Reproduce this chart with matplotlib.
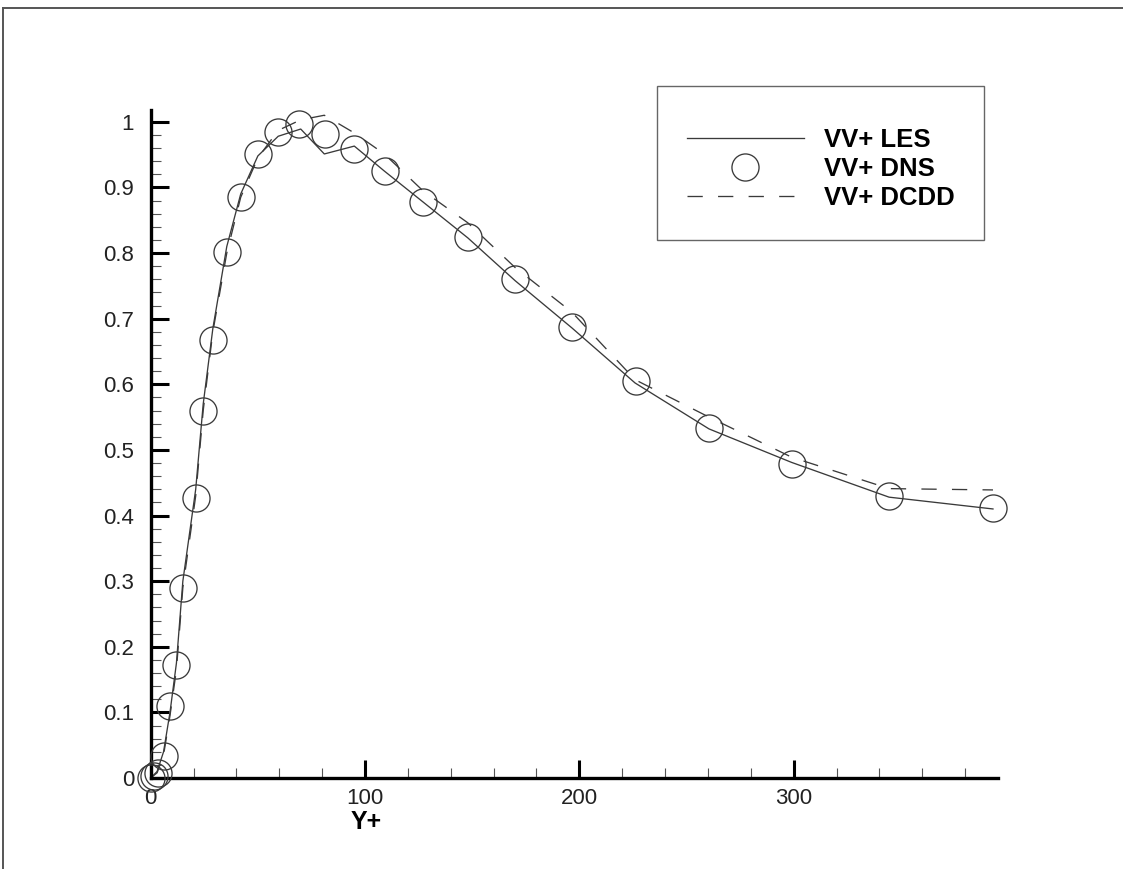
import matplotlib
matplotlib.use("Agg")
import matplotlib.pyplot as plt
from matplotlib.lines import Line2D
from matplotlib.ticker import MultipleLocator, FuncFormatter

# Wall-normal coordinate and normalised vv+ stress profiles
dns_yplus = [0, 1.5, 3.5, 6.0, 9.0, 12.0, 15.2, 21.1, 24.4, 29.1, 35.4, 42.0, 50.2,
             59.5, 69.3, 81.3, 94.7, 109.4, 127.2, 147.9, 170.0, 196.5, 226.3,
             260.5, 299.1, 344.5, 393.0]
dns_vv = [0.0, 0.003, 0.008, 0.034, 0.109, 0.172, 0.290, 0.427, 0.559, 0.667,
          0.801, 0.885, 0.951, 0.985, 0.997, 0.982, 0.959, 0.925, 0.878, 0.825,
          0.760, 0.687, 0.605, 0.534, 0.479, 0.429, 0.411]

les_yplus = [0, 3, 6, 9, 12, 15, 21, 24.5, 29, 35.5, 42, 50, 59.5, 70, 81, 95,
             109, 127, 148, 170, 196.5, 226, 260.5, 299, 344.5, 393]
les_vv = [0.0, 0.010, 0.040, 0.100, 0.175, 0.300, 0.440, 0.570, 0.685, 0.810,
          0.890, 0.948, 0.978, 0.989, 0.951, 0.963, 0.925, 0.878, 0.823, 0.758,
          0.686, 0.602, 0.532, 0.481, 0.428, 0.410]

dcdd_yplus = [0, 3, 6, 9, 12, 15, 21, 24.5, 29, 35.5, 42, 50, 59.5, 70, 81, 95,
              109, 127, 148, 170, 196.5, 226, 260.5, 299, 344.5, 393]
dcdd_vv = [0.0, 0.008, 0.035, 0.095, 0.165, 0.290, 0.430, 0.560, 0.680, 0.800,
           0.885, 0.945, 0.987, 1.003, 1.010, 0.983, 0.951, 0.895, 0.846, 0.778,
           0.710, 0.607, 0.550, 0.489, 0.441, 0.439]

series_labels = ["VV+ LES", "VV+ DNS", "VV+ DCDD"]
x_title = "Y+"

plt.rcParams["font.family"] = ["Liberation Sans", "DejaVu Sans"]
plt.rcParams["lines.scale_dashes"] = False

W, H = 1123, 869
fig = plt.figure(figsize=(W / 100, H / 100), dpi=100)
ax = fig.add_axes([150.7 / W, 1 - 778 / H, (997.7 - 150.7) / W, (778 - 110) / H])

ink = "#3a3a3a"
ax.plot(les_yplus, les_vv, color=ink, lw=0.95, label=series_labels[0])
ax.plot(dns_yplus, dns_vv, ls="none", marker="o", ms=19.5, mfc="none",
        mec=ink, mew=0.95, label=series_labels[1], clip_on=False, zorder=3)
ax.plot(dcdd_yplus, dcdd_vv, color=ink, lw=0.95, dashes=(11, 11),
        label=series_labels[2])

ax.set_xlim(0, 395.2)
ax.set_ylim(0, 1.018)

for side in ("top", "right"):
    ax.spines[side].set_visible(False)
for side in ("left", "bottom"):
    ax.spines[side].set_linewidth(2.4)
    ax.spines[side].set_color("black")

ax.xaxis.set_major_locator(MultipleLocator(100))
ax.xaxis.set_minor_locator(MultipleLocator(20))
ax.yaxis.set_major_locator(MultipleLocator(0.1))
ax.yaxis.set_minor_locator(MultipleLocator(0.02))
ax.yaxis.set_major_formatter(FuncFormatter(lambda v, p: "%g" % round(v, 2)))
ax.xaxis.set_major_formatter(FuncFormatter(lambda v, p: "%g" % v))

ax.tick_params(which="major", direction="in", length=13, width=2.2,
               color="black", labelsize=16, labelcolor="#222")
ax.tick_params(which="minor", direction="in", length=7.5, width=0.8,
               color="#555")
ax.tick_params(axis="y", which="major", pad=12)
ax.tick_params(axis="x", which="major", pad=7)

ax.set_xlabel(x_title, fontsize=18, fontweight="bold", va="center")
ax.xaxis.set_label_coords((366 - 150.7) / (997.7 - 150.7), (778 - 822) / 668)

# a tiny blank title gives the box its extra headroom above the entries
leg = ax.legend(loc="upper left", bbox_to_anchor=(657.3 / W, 1 - 86 / H),
                bbox_transform=fig.transFigure, frameon=True, fancybox=False,
                edgecolor="#666666", framealpha=1, borderaxespad=0,
                prop={"size": 18.5, "weight": "bold"}, handlelength=4.55,
                handletextpad=0.78, borderpad=1.15, labelspacing=0.2,
                numpoints=1, title=" ", title_fontsize=6)
leg.get_frame().set_linewidth(1.0)

# outer page frame
fig.add_artist(Line2D([2.5 / W, 1], [1 - 8 / H, 1 - 8 / H],
                      transform=fig.transFigure, color="#555555", lw=1.4))
fig.add_artist(Line2D([2.5 / W, 2.5 / W], [0, 1 - 8 / H],
                      transform=fig.transFigure, color="#555555", lw=1.4))

fig.savefig("out.png", dpi=100, facecolor="white")
